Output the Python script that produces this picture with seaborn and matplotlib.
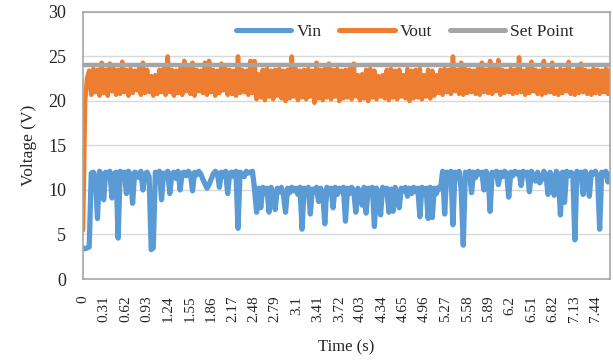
import numpy as np
import pandas as pd
import matplotlib
matplotlib.use("Agg")
import matplotlib.pyplot as plt
import seaborn as sns

# ---------------- data ----------------
sample_interval = 0.03  # seconds between samples

vin = [
    3.5, 3.4, 3.5, 3.6, 11.9, 12.0, 11.4, 6.8, 12.1, 11.8,
    8.9, 12.0, 11.5, 12.1, 9.1, 11.8, 12.0, 4.6, 12.1, 11.6,
    12.0, 9.6, 12.1, 11.7, 8.5, 12.0, 11.9, 11.4, 12.1, 10.0,
    11.8, 12.0, 11.5, 3.3, 3.5, 12.0, 11.7, 12.1, 8.9, 11.9,
    11.5, 12.1, 9.6, 11.8, 12.0, 11.3, 12.1, 10.0, 11.9, 12.0,
    11.6, 12.1, 11.8, 9.9, 12.0, 11.7, 12.1, 11.8, 11.2, 10.7,
    10.2, 10.6, 11.2, 11.8, 12.1, 11.9, 10.3, 12.0, 11.6, 12.1,
    9.6, 11.9, 12.0, 11.5, 12.1, 5.7, 12.0, 11.8, 11.5, 12.1,
    11.9, 12.0, 12.1, 10.1, 7.5, 10.2, 8.0, 10.3, 9.6, 10.2,
    7.5, 10.3, 9.5, 7.8, 10.2, 9.8, 10.3, 9.4, 7.5, 10.2,
    9.7, 10.3, 9.9, 10.2, 9.5, 10.3, 5.6, 10.2, 9.6, 10.3,
    7.3, 10.1, 9.8, 10.3, 8.7, 10.2, 9.6, 6.2, 10.3, 9.9,
    10.2, 8.0, 10.3, 9.5, 10.2, 9.8, 10.3, 6.5, 10.2, 9.6,
    10.3, 9.9, 7.5, 10.2, 9.7, 8.3, 10.3, 7.4, 10.2, 9.5,
    10.3, 5.9, 10.2, 9.8, 7.2, 10.3, 9.6, 10.2, 7.5, 10.1,
    7.6, 10.3, 9.7, 8.0, 10.2, 9.9, 10.3, 9.3, 10.2, 9.6,
    10.3, 9.8, 10.2, 7.0, 10.3, 9.7, 10.2, 6.8, 10.3, 6.9,
    10.2, 9.6, 10.3, 10.1, 12.1, 7.3, 12.0, 11.6, 12.1, 6.1,
    12.0, 11.5, 12.1, 10.0, 3.8, 12.0, 11.7, 12.1, 9.7, 12.0,
    11.4, 12.1, 11.8, 12.0, 10.0, 12.1, 11.6, 7.6, 12.0, 11.8,
    12.1, 10.6, 12.0, 11.5, 12.1, 11.9, 9.2, 12.0, 11.6, 12.1,
    11.8, 12.0, 10.5, 12.1, 11.7, 12.0, 9.8, 12.1, 11.6, 11.0,
    12.0, 10.8, 11.2, 12.1, 11.7, 9.5, 12.0, 11.4, 9.4, 12.1,
    11.8, 7.2, 12.0, 8.6, 12.1, 11.6, 12.0, 11.8, 4.4, 12.1,
    11.7, 12.0, 9.5, 12.1, 11.6, 9.3, 12.0, 11.8, 12.1, 11.5,
    5.6, 12.0, 11.7, 12.1, 10.9, 11.8,
]

vout = [
    5.5, 20.0, 22.6, 23.4, 20.7, 23.6, 21.0, 23.5, 20.6, 24.3,
    20.9, 23.5, 20.6, 24.2, 21.1, 23.6, 20.7, 23.5, 20.8, 24.4,
    21.0, 23.5, 20.6, 23.6, 20.9, 23.4, 21.2, 23.6, 20.7, 24.3,
    20.9, 23.5, 21.0, 22.8, 20.6, 22.9, 20.8, 23.5, 21.0, 23.6,
    20.7, 25.0, 21.0, 23.5, 20.6, 23.4, 20.9, 23.6, 20.7, 24.5,
    21.1, 23.6, 20.8, 24.3, 20.6, 23.5, 21.1, 23.4, 20.9, 24.3,
    20.7, 24.5, 21.0, 23.5, 20.6, 23.4, 20.9, 24.2, 21.2, 23.6,
    20.7, 23.5, 20.8, 23.4, 20.6, 25.0, 20.9, 23.5, 21.0, 23.4,
    20.7, 24.5, 20.9, 24.5, 20.2, 23.0, 20.4, 23.5, 20.1, 23.6,
    20.5, 23.4, 20.2, 23.5, 20.6, 23.6, 20.3, 23.4, 20.0, 23.5,
    20.3, 25.0, 20.5, 23.6, 20.1, 23.4, 20.4, 23.5, 20.2, 23.6,
    20.5, 23.4, 19.8, 24.3, 20.3, 23.5, 20.1, 23.6, 20.4, 24.2,
    20.2, 23.5, 20.5, 23.6, 20.0, 23.4, 20.3, 23.5, 20.4, 23.6,
    20.2, 24.2, 20.5, 22.9, 20.1, 23.0, 20.3, 23.5, 20.0, 23.6,
    20.4, 23.4, 20.2, 22.8, 20.5, 22.9, 20.3, 23.5, 20.1, 23.6,
    20.4, 23.4, 20.2, 23.5, 20.5, 22.9, 20.3, 23.6, 20.0, 23.4,
    20.3, 23.5, 20.4, 23.6, 20.2, 22.9, 20.5, 23.5, 20.3, 23.4,
    20.6, 22.9, 20.9, 23.5, 20.7, 23.6, 21.0, 23.5, 20.8, 25.0,
    21.1, 23.5, 20.8, 24.3, 20.7, 23.6, 20.9, 23.5, 21.0, 23.4,
    20.8, 23.6, 20.7, 24.3, 21.0, 23.5, 20.9, 24.5, 20.8, 23.6,
    21.1, 24.6, 20.7, 23.5, 20.9, 23.4, 21.0, 23.6, 20.8, 23.5,
    20.9, 24.9, 21.0, 23.4, 20.7, 23.6, 20.9, 24.4, 21.1, 23.5,
    20.8, 23.4, 20.7, 24.5, 20.9, 23.5, 21.0, 24.3, 20.8, 23.4,
    20.7, 23.6, 20.9, 23.5, 21.1, 24.4, 20.8, 23.4, 20.7, 23.6,
    20.9, 24.2, 21.0, 23.5, 20.8, 23.4, 20.7, 23.6, 20.9, 23.5,
    20.8, 23.4, 21.0, 23.6, 20.8, 23.5,
]

set_point_value = 24.0

x_tick_labels = ["0", "0.31", "0.62", "0.93", "1.24", "1.55", "1.86", "2.17",
                 "2.48", "2.79", "3.1", "3.41", "3.72", "4.03", "4.34", "4.65",
                 "4.96", "5.27", "5.58", "5.89", "6.2", "6.51", "6.82", "7.13",
                 "7.44"]
y_ticks = [0, 5, 10, 15, 20, 25, 30]

series_names = ["Vin", "Vout", "Set Point"]
series_colors = ["#5B9BD5", "#ED7D31", "#A5A5A5"]

# ---------------- build table ----------------
time = np.round(np.arange(len(vin)) * sample_interval, 2)
df = pd.DataFrame({
    "time": time,
    "Vin": vin,
    "Vout": vout,
    "Set Point": [set_point_value] * len(vin),
})

# ---------------- plot ----------------
sns.set_theme(style="white")
plt.rcParams["font.family"] = ["Liberation Serif", "DejaVu Serif"]

fig = plt.figure(figsize=(6.13, 3.60), dpi=100)
ax = fig.add_axes([0.1354, 0.225, 0.8597, 0.7417])

widths = [3.8, 3.3, 3.2]
for name, color, lw in zip(series_names, series_colors, widths):
    sns.lineplot(data=df, x="time", y=name, ax=ax, color=color, linewidth=lw,
                 label=name, estimator=None, sort=False,
                 solid_joinstyle="round", solid_capstyle="round")

ax.set_xlim(0, time[-1])
ax.set_ylim(0, 30)
ax.set_yticks(y_ticks)
ax.set_yticklabels([str(v) for v in y_ticks], fontsize=13)
ax.set_xticks([float(s) for s in x_tick_labels])
ax.set_xticklabels(x_tick_labels, rotation=90, fontsize=11)
ax.tick_params(axis="both", length=0)
ax.tick_params(axis="y", pad=12)
ax.tick_params(axis="x", pad=12)

ax.yaxis.grid(True, color="#D9D9D9", linewidth=1.0)
ax.xaxis.grid(False)
ax.set_axisbelow(True)
for sp in ax.spines.values():
    sp.set_visible(True)
    sp.set_color("#A6A6A6")
    sp.set_linewidth(1.2)

ax.set_xlabel("Time (s)", fontsize=12, labelpad=12)
ax.set_ylabel("Voltage (V)", fontsize=12.5, labelpad=8)

leg = ax.legend(loc="center", bbox_to_anchor=(0.611, 0.925), ncol=3,
                frameon=False, fontsize=12.5, handlelength=3.2,
                handletextpad=0.3, columnspacing=1.0, borderaxespad=0)
for line in leg.get_lines():
    line.set_linewidth(3.6)
    line.set_solid_capstyle("round")

fig.savefig("out.png", dpi=100, facecolor="white")
